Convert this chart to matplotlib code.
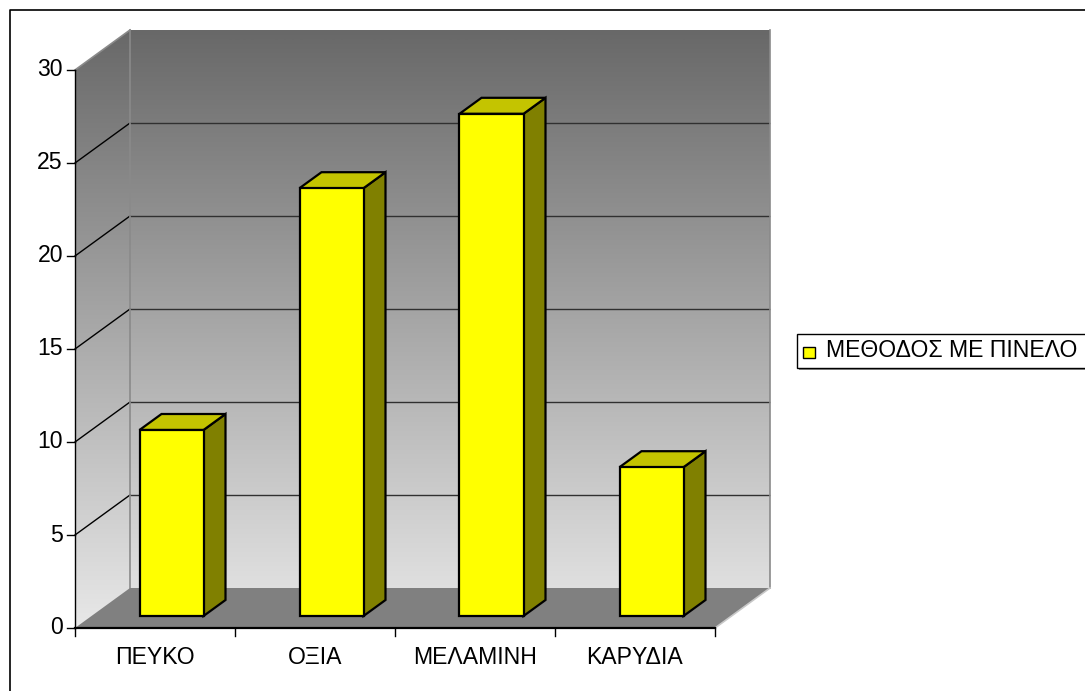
import numpy as np
import matplotlib
matplotlib.use("Agg")
import matplotlib.pyplot as plt
from matplotlib.patches import Polygon, Rectangle
from matplotlib.colors import LinearSegmentedColormap

# ---- data ----
categories = ["ΠΕΥΚΟ", "ΟΞΙΑ", "ΜΕΛΑΜΙΝΗ", "ΚΑΡΥΔΙΑ"]
values = [10, 23, 27, 8]
series_name = "ΜΕΘΟΔΟΣ ΜΕ ΠΙΝΕΛΟ"
y_ticks = [0, 5, 10, 15, 20, 25, 30]

# ---- figure / layout (pixels) ----
W, H, DPI = 1085, 691, 100
FONT = "Liberation Sans"
FS = 16.6

px_left, px_right = 75, 715      # front plane, category axis
px_base, px_top = 628, 70        # front plane, value axis (0 .. max)
depth_dx, depth_dy = 55, 40      # oblique offset of the back wall

ncat = len(categories)
ymax = y_ticks[-1]
sx = (px_right - px_left) / ncat     # pixels per category
sy = (px_base - px_top) / ymax       # pixels per value unit

fig = plt.figure(figsize=(W / DPI, H / DPI), dpi=DPI)
ax = fig.add_axes([0, 0, 1, 1])
ax.set_axis_off()
ax.set_xlim(-px_left / sx, (W - px_left) / sx)
ax.set_ylim(-(H - px_base) / sy, px_base / sy)


def px2d(x, y):
    """pixel position (origin top-left) -> data coordinates"""
    return (x - px_left) / sx, (px_base - y) / sy


DX = depth_dx / sx
DY = depth_dy / sy
top = ymax + DY

# ---- walls with vertical grey gradient ----
walls = Polygon([(0, 0), (0, ymax), (DX, top), (ncat + DX, top),
                 (ncat + DX, DY), (ncat, 0)], closed=True,
                facecolor="none", edgecolor="none")
ax.add_patch(walls)
wall_cmap = LinearSegmentedColormap.from_list(
    "wall", ["#e8e8e8", "#686868"])
grad = np.linspace(0, 1, 256).reshape(-1, 1)
im = ax.imshow(grad, cmap=wall_cmap, origin="lower", aspect="auto",
               extent=[0, ncat + DX, 0, top], interpolation="bilinear",
               zorder=1)
im.set_clip_path(walls)

# gridlines
for v in y_ticks[1:-1]:
    ax.plot([DX, ncat + DX], [DY + v, DY + v], color="#303030", lw=1.0,
            zorder=2, solid_capstyle="butt")
    ax.plot([0, DX], [v, DY + v], color="black", lw=1.0, zorder=2)

# wall edges
edge_c = "#8a8a8a"
ax.plot([DX, DX], [DY, top], color=edge_c, lw=1.2, zorder=2)
ax.plot([ncat + DX, ncat + DX], [DY, top], color=edge_c, lw=1.2, zorder=2)
ax.plot([0, DX], [ymax, top], color=edge_c, lw=1.2, zorder=2)

# floor
floor = Polygon([(0, 0), (ncat, 0), (ncat + DX, DY), (DX, DY)], closed=True,
                facecolor="#808080", edgecolor="none", zorder=3)
ax.add_patch(floor)
ax.plot([ncat, ncat + DX], [0, DY], color="#c8c8c8", lw=1.2, zorder=3)

# ---- bars ----
f0, f1 = 0.3, 0.7           # depth range of the bars
gap, width = 0.3, 0.4       # within each category slot
bx, by = (f1 - f0) * DX, (f1 - f0) * DY
for i, v in enumerate(values):
    x0 = i + gap + f0 * DX
    x1 = x0 + width
    yb = f0 * DY
    yt = yb + v
    kw = dict(closed=True, edgecolor="black", lw=1.6, joinstyle="miter",
              zorder=4 + i)
    ax.add_patch(Polygon([(x1, yb), (x1 + bx, yb + by), (x1 + bx, yt + by),
                          (x1, yt)], facecolor="#808000", **kw))
    ax.add_patch(Polygon([(x0, yt), (x1, yt), (x1 + bx, yt + by),
                          (x0 + bx, yt + by)], facecolor="#c4c400", **kw))
    ax.add_patch(Polygon([(x0, yb), (x1, yb), (x1, yt), (x0, yt)],
                         facecolor="#ffff00", **kw))

# ---- axes lines, ticks, labels ----
tick_x = 8 / sx
tick_y = 8 / sy
ax.plot([0, 0], [0, ymax], color="black", lw=1.0, zorder=10)
for v in y_ticks:
    ax.plot([-tick_x, 0], [v, v], color="black", lw=1.0, zorder=10)
    ax.text(-12 / sx, v, str(v), ha="right", va="center", fontsize=FS,
            family=FONT, color="black")

ax.plot([0, ncat], [0, 0], color="black", lw=1.6, zorder=10)
for i in range(ncat + 1):
    ax.plot([i, i], [0, -tick_y], color="black", lw=1.0, zorder=10)
for i, c in enumerate(categories):
    ax.text(i + 0.5, -29 / sy, c, ha="center", va="center", fontsize=FS,
            family=FONT, color="black")

# ---- legend ----
lx0, ly0 = px2d(797, 368)
lx1, ly1 = px2d(1095, 334)
ax.add_patch(Rectangle((lx0 + 2 / sx, ly0 - 2 / sy), lx1 - lx0, ly1 - ly0,
                       facecolor="#909090", edgecolor="none", zorder=11))
ax.add_patch(Rectangle((lx0, ly0), lx1 - lx0, ly1 - ly0,
                       facecolor="white", edgecolor="black", lw=1.0, zorder=12))
mx0, my0 = px2d(803, 358)
ax.add_patch(Rectangle((mx0, my0), 12 / sx, 11 / sy, facecolor="#ffff00",
                       edgecolor="black", lw=1.0, zorder=13))
tx, ty = px2d(826, 351)
ax.text(tx, ty, series_name, ha="left", va="center", fontsize=FS,
        family=FONT, color="black", zorder=13)

# ---- outer chart border ----
bx0, by0 = px2d(9.5, 10.5)
bx1, by1 = px2d(W + 5, H + 5)
ax.plot([bx0, bx0, bx1], [by1, by0, by0], color="black", lw=1.2, zorder=20,
        clip_on=False)

fig.savefig("out.png", dpi=DPI)
